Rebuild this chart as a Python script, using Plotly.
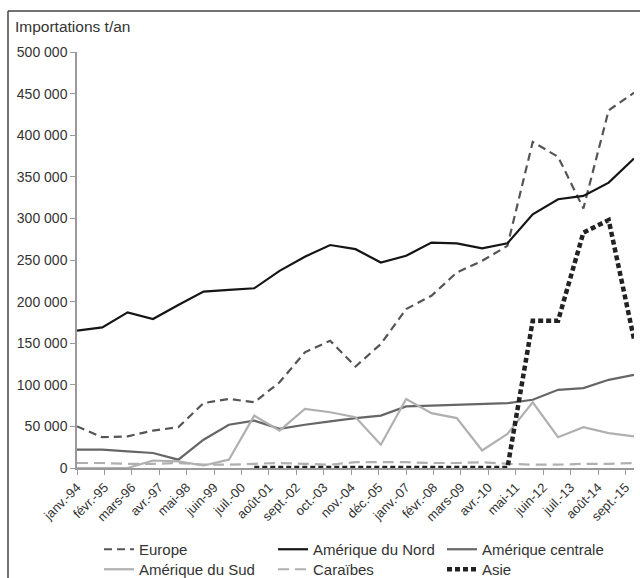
import plotly.graph_objects as go

years = list(range(1994, 2017))
tick_labels = ["janv.-94", "févr.-95", "mars-96", "avr.-97", "mai-98", "juin-99", "juil.-00",
               "août-01", "sept.-02", "oct.-03", "nov.-04", "déc.-05", "janv.-07", "févr.-08",
               "mars-09", "avr.-10", "mai-11", "juin-12", "juil.-13", "août-14", "sept.-15"]

europe = [50000, 37000, 38000, 45000, 49000, 78000, 83000, 79000, 103000, 139000, 153000, 122000,
          149000, 191000, 207000, 235000, 249000, 267000, 392000, 374000, 312000, 430000, 451000]
amerique_nord = [165000, 169000, 187000, 179000, 196000, 212000, 214000, 216000, 237000, 254000, 268000,
                 263000, 247000, 255000, 271000, 270000, 264000, 270000, 305000, 323000, 327000, 343000, 372000]
amerique_centrale = [22000, 22000, 20000, 18000, 10000, 34000, 52000, 57000, 47000, 52000, 56000, 60000,
                     63000, 74000, 75000, 76000, 77000, 78000, 82000, 94000, 96000, 106000, 112000]
amerique_sud = [0, 0, 0, 9000, 8000, 3000, 10000, 63000, 45000, 71000, 67000, 61000, 28000, 83000,
                66000, 60000, 21000, 41000, 79000, 37000, 49000, 42000, 38000]
caraibes = [6000, 6000, 5000, 5000, 6000, 4000, 4000, 5000, 6000, 5000, 4000, 7000, 7000, 7000, 6000,
            6000, 7000, 5000, 4000, 4000, 5000, 5000, 6000]
asie = [None, None, None, None, None, None, None, 0, 0, 0, 0, 0, 0, 0, 0, 0, 0, 0,
        177000, 177000, 283000, 298000, 155000]

x = [f"{y}-01-01" for y in years]

# tick positions every 13 months starting Jan 1994
tickvals = []
for i in range(len(tick_labels)):
    m = 13 * i
    yy = 1994 + m // 12
    mm = m % 12 + 1
    tickvals.append(f"{yy}-{mm:02d}-01")

FONT = "Liberation Sans, Arial, Helvetica, sans-serif"
TXT = "#333333"

W, H = 640, 578
L, R, T, B = 77, 6, 52, 110
pw = W - L - R
ph = H - T - B


def px_x(p):
    return (p - L) / pw


def px_y(p):
    return (H - B - p) / ph


fig = go.Figure()
# name, values, colour, width, dash, legend id, legend left px, legend top px
series = [
    ("Europe", europe, "#555555", 2.2, "8px,5px", "legend", 99, 533),
    ("Amérique du Nord", amerique_nord, "#151515", 2.2, "solid", "legend2", 273, 533),
    ("Amérique centrale", amerique_centrale, "#666666", 2.2, "solid", "legend3", 442, 533),
    ("Amérique du Sud", amerique_sud, "#b0b0b0", 2.2, "solid", "legend4", 99, 553),
    ("Caraïbes", caraibes, "#b0b0b0", 2.2, "11px,6px", "legend5", 273, 553),
    ("Asie", asie, "#222222", 4.5, "5px,3px", "legend6", 442, 553),
]
legends = {}
for name, vals, color, width, dash, leg, lx, ly in series:
    fig.add_trace(go.Scatter(x=x, y=vals, name=name, mode="lines", showlegend=True,
                             line=dict(color=color, width=width, dash=dash),
                             legend=leg, connectgaps=False))
    legends[leg] = dict(orientation="v", yanchor="top", xanchor="left",
                        xref="container", yref="container",
                        x=lx / W, y=1 - ly / H,
                        font=dict(family=FONT, size=15, color=TXT),
                        bgcolor="rgba(0,0,0,0)", itemwidth=30)

fig.update_layout(
    width=W, height=H, showlegend=True,
    margin=dict(l=L, r=R, t=T, b=B, autoexpand=False),
    plot_bgcolor="white", paper_bgcolor="white",
    font=dict(family=FONT, color=TXT),
    separators=", ",
    xaxis=dict(type="date", range=["1994-01-01", "2016-01-01"], automargin=False,
               tickmode="array", tickvals=tickvals, ticktext=tick_labels,
               tickangle=-45, tickfont=dict(family=FONT, size=13, color=TXT),
               showgrid=False, zeroline=False, showline=True, linecolor="#9a9a9a", linewidth=1.5,
               ticks="outside", ticklen=5, tickcolor="#9a9a9a", tickwidth=1),
    yaxis=dict(range=[0, 500000], automargin=False,
               tickvals=[0, 50000, 100000, 150000, 200000, 250000, 300000,
                         350000, 400000, 450000, 500000],
               tickformat=",d", tickfont=dict(family=FONT, size=14, color=TXT),
               showgrid=False, zeroline=False, showline=True, linecolor="#9a9a9a", linewidth=1.5,
               ticks="outside", ticklen=5, tickcolor="#9a9a9a", tickwidth=1),
    annotations=[dict(text="Importations t/an", xref="paper", yref="paper",
                      x=px_x(13), y=px_y(26), xanchor="left", yanchor="middle",
                      showarrow=False, font=dict(family=FONT, size=15.5, color=TXT))],
    shapes=[
        dict(type="line", xref="paper", yref="paper", x0=px_x(8), x1=px_x(8),
             y0=px_y(11), y1=px_y(600), line=dict(color="#444444", width=1.5)),
        dict(type="line", xref="paper", yref="paper", x0=px_x(8), x1=px_x(660),
             y0=px_y(11), y1=px_y(11), line=dict(color="#444444", width=1.5)),
    ],
    **legends,
)

fig.write_html("out.html", config={"displayModeBar": False},
               post_script="document.body.style.margin='0';document.body.style.overflow='hidden';")
